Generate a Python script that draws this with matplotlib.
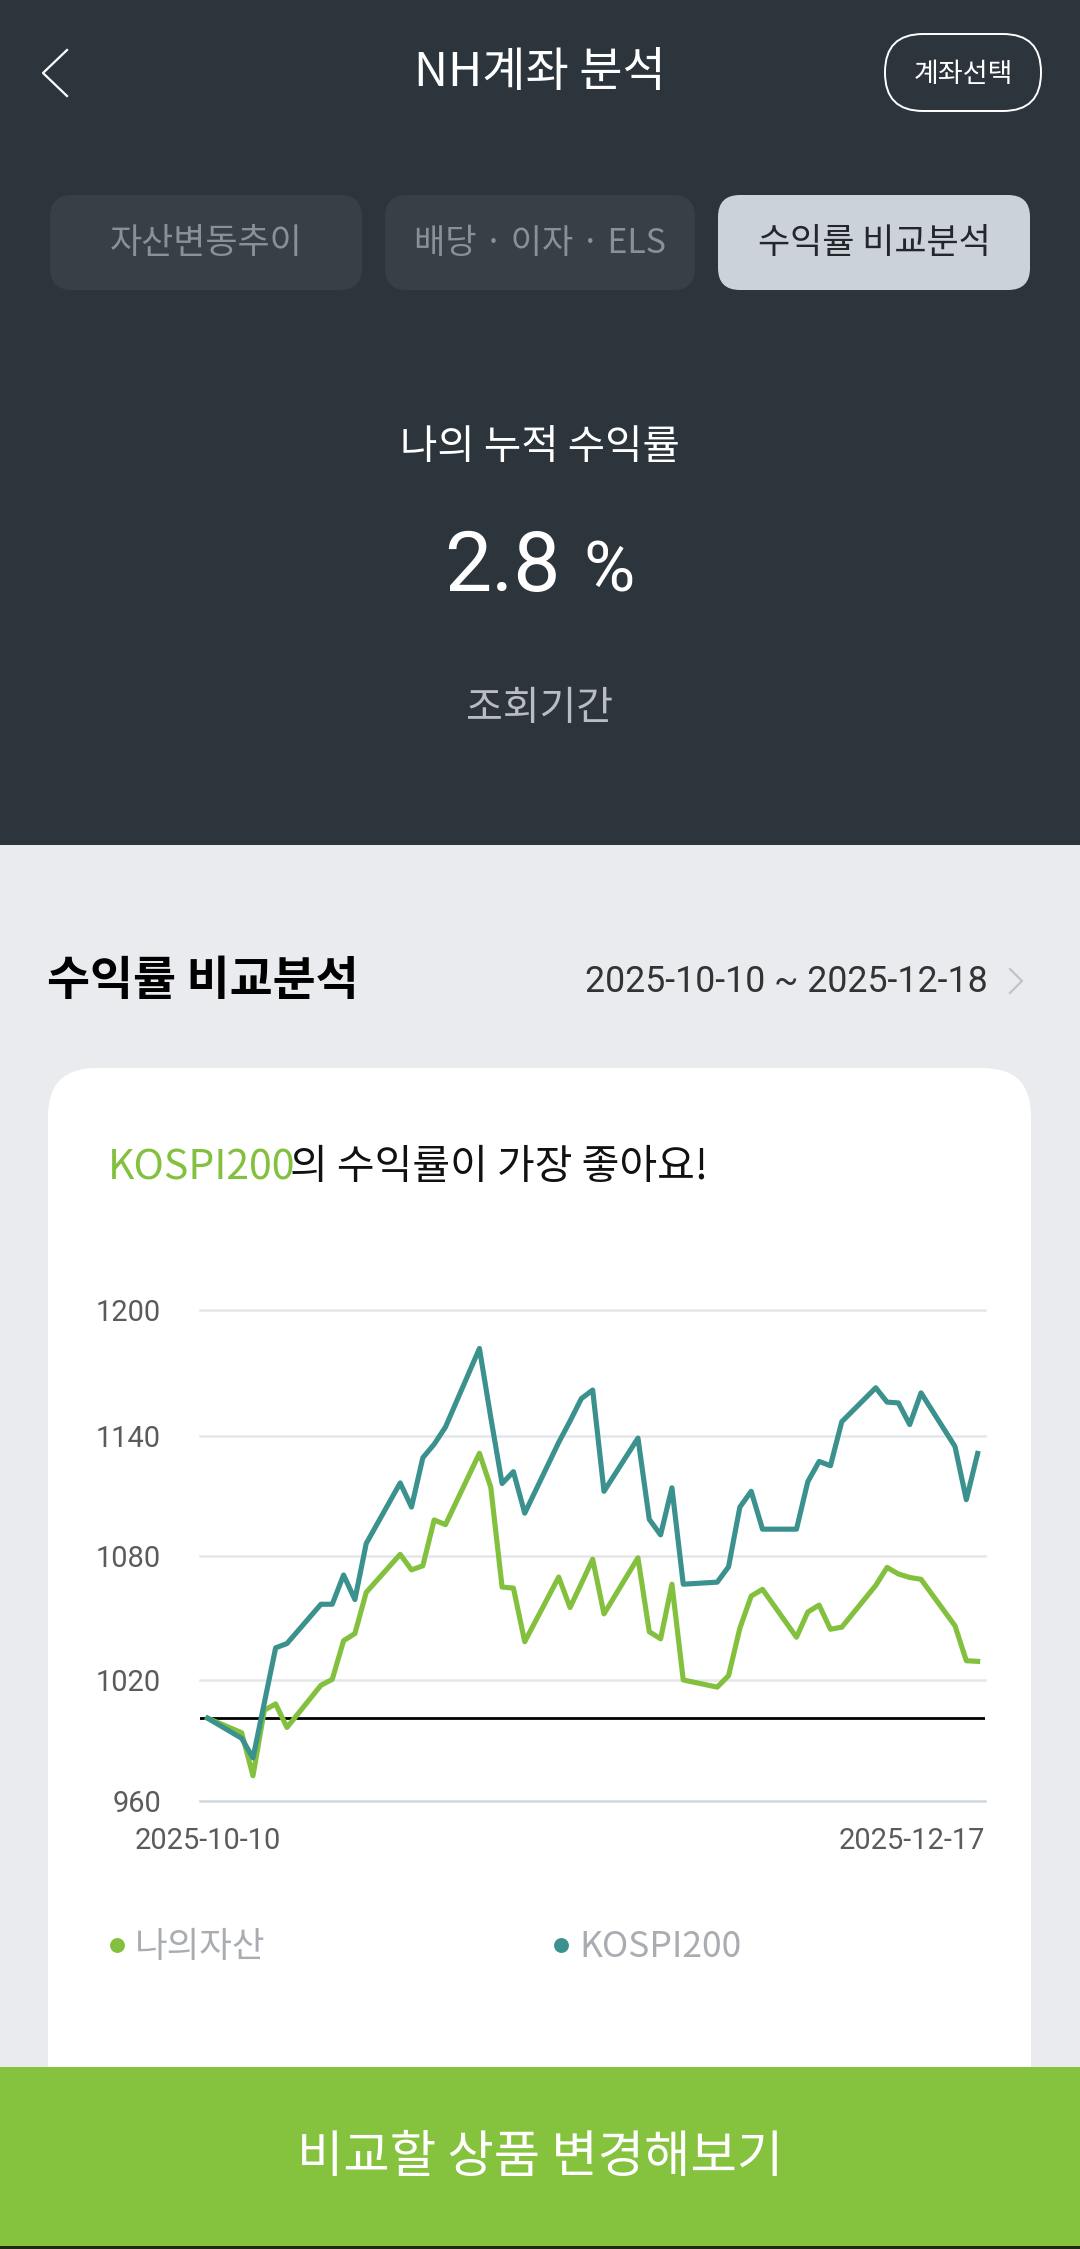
import matplotlib
matplotlib.use("Agg")

import matplotlib.pyplot as plt
from matplotlib.patches import FancyBboxPatch, Rectangle

KR = ['Noto Sans CJK KR', 'DejaVu Sans']
LATIN = ['Roboto', 'DejaVu Sans']

# trading days, counted from 2025-10-10
days = [0, 3, 4, 5, 6, 7, 10, 11, 12, 13, 14, 17, 18, 19, 20, 21, 24, 25, 26, 27, 28,
	31, 32, 33, 34, 35, 38, 39, 40, 41, 42, 45, 46, 47, 48, 49, 52, 53, 54, 55, 56,
	59, 60, 61, 62, 63, 66, 67, 68]

my_assets = [1000.3, 993.2, 972.2, 1004.2, 1007.3, 995.8, 1016.4, 1019.3, 1038.2, 1041.7, 1061.8,
	1080.4, 1072.8, 1074.8, 1097.2, 1094.9, 1129.8, 1113.2, 1064.4, 1063.9, 1037.7,
	1069.3, 1054.4, 1066.1, 1078.0, 1051.3, 1078.7, 1042.6, 1039.1, 1065.8, 1019.0,
	1015.5, 1021.1, 1044.3, 1060.0, 1063.3, 1039.9, 1052.2, 1055.6, 1043.8, 1044.8,
	1065.2, 1074.0, 1070.8, 1069.1, 1068.2, 1045.5, 1028.4, 1028.1]

kospi200 = [1000.3, 990.5, 980.9, 1007.8, 1034.7, 1036.8, 1056.0, 1056.0, 1070.3, 1058.3, 1085.7,
	1115.3, 1103.5, 1127.6, 1134.2, 1142.6, 1181.0, 1147.3, 1115.0, 1120.8, 1100.5,
	1135.1, 1145.5, 1156.5, 1160.7, 1111.2, 1137.2, 1097.5, 1089.9, 1112.9, 1065.8,
	1066.8, 1074.3, 1103.5, 1111.2, 1092.7, 1092.7, 1115.9, 1125.8, 1123.7, 1145.2,
	1161.8, 1154.8, 1154.4, 1143.8, 1159.3, 1133.1, 1107.1, 1129.7]

y_ticks = [960, 1019, 1079.4, 1138.4, 1200]
y_labels = ['960', '1020', '1080', '1140', '1200']
x_labels = ['2025-10-10', '2025-12-17']
tabs = ['자산변동추이', '배당 · 이자 · ELS', '수익률 비교분석']

DARK = '#2d353c'
PAGE = '#e9ebef'
GREEN = '#85c23d'
LINE_GREEN = '#82c03e'
TEAL = '#3a918d'

W, H = 1080, 2249


def round_box(ax, x0, y0, x1, y1, r, **kw):
	box = FancyBboxPatch((x0 + r, y0 + r), x1 - x0 - 2 * r, y1 - y0 - 2 * r,
		boxstyle="round,pad=%f,rounding_size=%f" % (r, r), **kw)
	ax.add_patch(box)


def px(size):
	return size * 0.72


def draw_page(ax):
	ax.add_patch(Rectangle((0, 0), W, 845, color=DARK, lw=0))

	ax.plot([67, 43, 67], [50, 73, 96], color='white', lw=1.6)
	ax.text(540, 73, 'NH계좌 분석', color='white', fontsize=px(47), family=KR, ha='center', va='center')
	round_box(ax, 885, 34, 1041, 111, 38, fc='none', ec='white', lw=1.4)
	ax.text(963, 75, '계좌선택', color='white', fontsize=px(27), family=KR, ha='center', va='center')

	tab_edges = [(50, 362), (385, 695), (718, 1030)]
	tab_sizes = [35, 34, 35]
	for i, (x0, x1) in enumerate(tab_edges):
		active = i == 2
		round_box(ax, x0, 195, x1, 290, 22, fc='#cbd2d9' if active else '#373f47', ec='none')
		ax.text((x0 + x1) / 2, 243, tabs[i], color='#22272b' if active else '#8b9095',
			fontsize=px(tab_sizes[i]), family=KR, ha='center', va='center')

	ax.text(540, 447, '나의 누적 수익률', color='white', fontsize=px(40.6), family=KR, ha='center', va='center')
	ax.text(502, 568, '2.8', color='white', fontsize=px(84), family=LATIN, ha='center', va='center')
	ax.text(609, 572, '%', color='white', fontsize=px(70), family=LATIN, ha='center', va='center')
	ax.text(540, 709, '조회기간', color='#b9bdc1', fontsize=px(40), family=KR, ha='center', va='center')

	ax.add_patch(Rectangle((0, 845), W, H - 845, color=PAGE, lw=0))
	ax.text(47, 981, '수익률 비교분석', color='black', fontsize=px(46.8), family=KR, weight='bold', ha='left', va='center')
	ax.text(988, 982, '2025-10-10 ~ 2025-12-18', color='#333333', fontsize=px(35.8), family=LATIN, ha='right', va='center')
	ax.plot([1010, 1022, 1010], [969, 981, 993], color='#bfc4c9', lw=1.6)

	round_box(ax, 48, 1068, 1031, 2200, 48, fc='white', ec='none')
	ax.text(108, 1168, 'KOSPI200', color=LINE_GREEN, fontsize=px(41), family=KR, weight='medium', ha='left', va='center')
	ax.text(290, 1168, '의 수익률이 가장 좋아요!', color='#111111', fontsize=px(41), family=KR, ha='left', va='center')

	ax.scatter([117], [1945], s=115, color=LINE_GREEN, lw=0)
	ax.text(135, 1947, '나의자산', color='#a9adb1', fontsize=px(35.5), family=KR, ha='left', va='center')
	ax.scatter([561], [1945], s=115, color=TEAL, lw=0)
	ax.text(579, 1947, 'KOSPI200', color='#a9adb1', fontsize=px(35.5), family=KR, ha='left', va='center')

	ax.add_patch(Rectangle((0, 2067), W, 179, color=GREEN, lw=0))
	ax.add_patch(Rectangle((0, 2246), W, 3, color='#1c2a14', lw=0))
	ax.text(540, 2158, '비교할 상품 변경해보기', color='white', fontsize=px(50.4), family=KR, ha='center', va='center')


def draw_chart(ax):
	ax.set_xlim(-0.68, 68.65)
	ax.set_ylim(960, 1200)
	ax.patch.set_alpha(0)
	for s in ax.spines.values():
		s.set_visible(False)

	for v in y_ticks:
		ax.axhline(v, color='#cfd8e0' if v == 960 else '#e4e6ea', lw=1.8, zorder=1, clip_on=False)
	ax.axhline(1000.3, color='black', lw=2, zorder=2)

	ax.plot(days, my_assets, color=LINE_GREEN, lw=3.7, zorder=3, solid_joinstyle='round')
	ax.plot(days, kospi200, color=TEAL, lw=3.7, zorder=4, solid_joinstyle='round')

	ax.set_yticks(y_ticks)
	ax.set_yticklabels(y_labels, family=LATIN, fontsize=px(29), color='#5b5b5b')
	ax.set_xticks([0, 68.65])
	ax.set_xticklabels(x_labels, family=LATIN, fontsize=px(29), color='#5b5b5b')
	ax.get_xticklabels()[1].set_ha('right')
	ax.tick_params(axis='both', length=0)
	ax.tick_params(axis='y', pad=28)
	ax.tick_params(axis='x', pad=19)


fig = plt.figure(figsize=(W / 100, H / 100), dpi=100)

page = fig.add_axes([0, 0, 1, 1])
page.set_xlim(0, W)
page.set_ylim(H, 0)
page.axis('off')
draw_page(page)

chart = fig.add_axes([200 / W, 1 - 1800.7 / H, 785 / W, (1800.7 - 1309.6) / H])
draw_chart(chart)

fig.savefig('out.png', dpi=100)
